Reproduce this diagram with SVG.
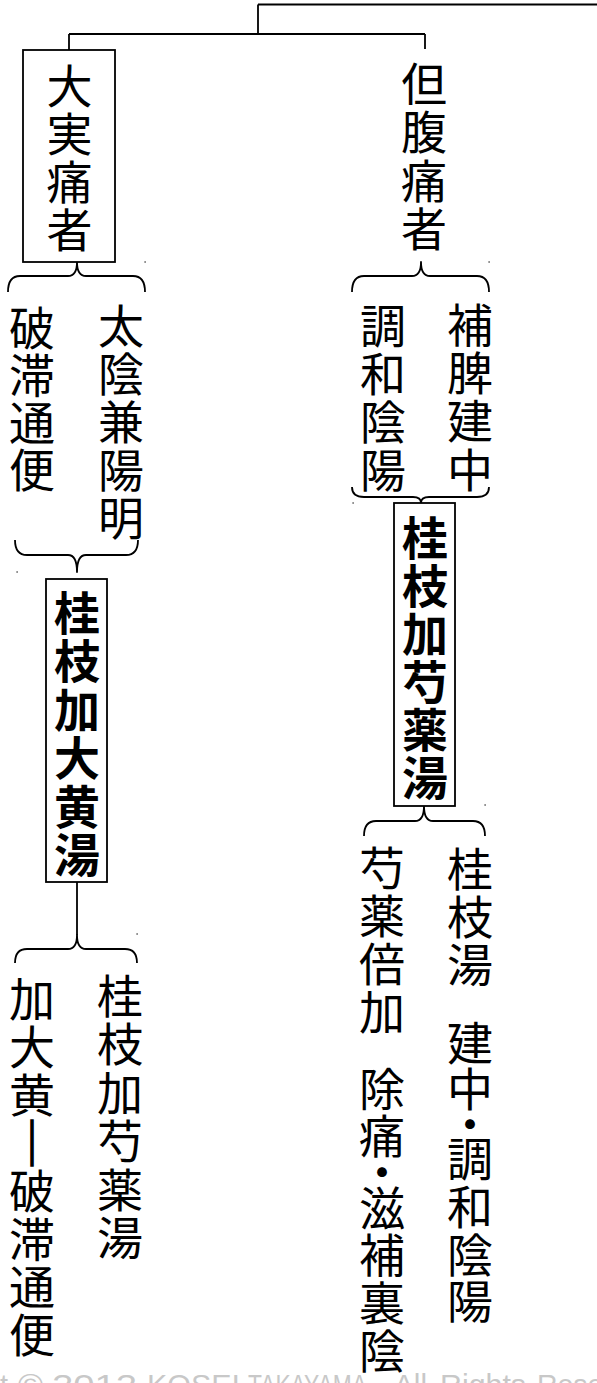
<svg xmlns="http://www.w3.org/2000/svg" width="597" height="1383" viewBox="0 0 597 1383">
<style>
.ln{fill:none;stroke:#000;stroke-width:1.8;stroke-linecap:butt;stroke-linejoin:round}
.box{fill:#fff;stroke:#000;stroke-width:1.8}
.t{font-family:"Noto Sans CJK JP","Noto Sans CJK SC",sans-serif;font-size:46px;fill:#000;text-anchor:middle}
.b{font-weight:700}
.bar{stroke:#000;stroke-width:1.6}
.dot{fill:#666}
.cr{font-family:"Liberation Sans",Arial,sans-serif;font-size:30px;fill:#c8c8c8}
</style>
<g id="connectors">
<path class="ln" d="M258,4.5 H597 M258,4.5 V34 M69,34 H425 M69,34 V50 M425,34 V49"/>
<path class="ln" d="M8,292 Q8,276 20,276 L68,276 Q77,276 77,262 Q77,276 86,276 L133,276 Q145,276 145,292"/>
<path class="ln" d="M15,540 Q15,555 27,555 L68,555 Q77,555 77,572 Q77,555 86,555 L126,555 Q138,555 138,540"/>
<path class="ln" d="M77,882 V935"/>
<path class="ln" d="M15,963 Q15,949 27,949 L68,949 Q77,949 77,935 Q77,949 86,949 L125,949 Q137,949 137,963"/>
<path class="ln" d="M352,292 Q352,276 364,276 L412,276 Q421,276 421,262 Q421,276 430,276 L477,276 Q489,276 489,292"/>
<path class="ln" d="M352,487 Q352,497 364,497 L413,497 Q421,497 421,503 Q421,497 429,497 L477,497 Q489,497 489,487"/>
<path class="ln" d="M364,836 Q364,821 376,821 L415,821 Q424,821 424,806 Q424,821 433,821 L473,821 Q485,821 485,836"/>
<rect class="dot" x="144.5" y="261" width="1.2" height="2"/>
<rect class="dot" x="488.5" y="261" width="1.2" height="2"/>
<rect class="dot" x="16.5" y="571" width="1.2" height="2"/>
<rect class="dot" x="352.5" y="502" width="1.2" height="2"/>
<rect class="dot" x="136.5" y="933" width="1.2" height="2"/>
<rect class="dot" x="484.5" y="804" width="1.2" height="2"/>
</g>
<g id="n-daijitsu">
<rect class="box" x="23" y="50" width="92" height="212"/>
<text class="t"><tspan x="69.5" y="103">大</tspan><tspan x="69.5" y="151">実</tspan><tspan x="69.5" y="199">痛</tspan><tspan x="69.5" y="247">者</tspan></text>
</g>
<g id="n-fukutsu">
<text class="t"><tspan x="424" y="101">但</tspan><tspan x="424" y="149">腹</tspan><tspan x="424" y="198">痛</tspan><tspan x="424" y="246">者</tspan></text>
</g>
<g id="n-hatai">
<text class="t"><tspan x="32" y="345">破</tspan><tspan x="32" y="392">滞</tspan><tspan x="32" y="440">通</tspan><tspan x="32" y="487">便</tspan></text>
</g>
<g id="n-taiin">
<text class="t"><tspan x="121" y="343">太</tspan><tspan x="121" y="391">陰</tspan><tspan x="121" y="439">兼</tspan><tspan x="121" y="487">陽</tspan><tspan x="121" y="535">明</tspan></text>
</g>
<g id="n-chowa">
<text class="t"><tspan x="383" y="343">調</tspan><tspan x="383" y="391">和</tspan><tspan x="383" y="439">陰</tspan><tspan x="383" y="487">陽</tspan></text>
</g>
<g id="n-hohi">
<text class="t"><tspan x="470" y="342">補</tspan><tspan x="470" y="390">脾</tspan><tspan x="470" y="438">建</tspan><tspan x="470" y="487">中</tspan></text>
</g>
<g id="n-keishikadaio">
<rect class="box" x="46" y="579" width="61" height="303"/>
<text class="t b"><tspan x="77" y="630">桂</tspan><tspan x="77" y="678">枝</tspan><tspan x="77" y="727">加</tspan><tspan x="77" y="775">大</tspan><tspan x="77" y="824">黄</tspan><tspan x="77" y="872">湯</tspan></text>
</g>
<g id="n-keishikashakuyaku">
<rect class="box" x="394" y="503" width="61" height="303"/>
<text class="t b"><tspan x="425" y="555">桂</tspan><tspan x="425" y="603">枝</tspan><tspan x="425" y="651">加</tspan><tspan x="425" y="699">芍</tspan><tspan x="425" y="747">薬</tspan><tspan x="425" y="795">湯</tspan></text>
</g>
<g id="n-kadaio">
<text class="t"><tspan x="32" y="1016">加</tspan><tspan x="32" y="1064">大</tspan><tspan x="32" y="1112">黄</tspan><tspan class="bar" x="32" y="1160">｜</tspan><tspan x="32" y="1208">破</tspan><tspan x="32" y="1256">滞</tspan><tspan x="32" y="1304">通</tspan><tspan x="32" y="1352">便</tspan></text>
</g>
<g id="n-keishikashakuyakuto">
<text class="t"><tspan x="120" y="1013">桂</tspan><tspan x="120" y="1061">枝</tspan><tspan x="120" y="1110">加</tspan><tspan x="120" y="1158">芍</tspan><tspan x="120" y="1207">薬</tspan><tspan x="120" y="1255">湯</tspan></text>
</g>
<g id="n-shakuyakubaika">
<text class="t"><tspan x="382" y="885">芍</tspan><tspan x="382" y="933">薬</tspan><tspan x="382" y="981">倍</tspan><tspan x="382" y="1029">加</tspan><tspan x="382" y="1106">除</tspan><tspan x="382" y="1153">痛</tspan><tspan x="382" y="1189">・</tspan><tspan x="382" y="1225">滋</tspan><tspan x="382" y="1272">補</tspan><tspan x="382" y="1320">裏</tspan><tspan x="382" y="1368">陰</tspan></text>
</g>
<g id="n-keishito">
<text class="t"><tspan x="470" y="886">桂</tspan><tspan x="470" y="934">枝</tspan><tspan x="470" y="982">湯</tspan><tspan x="470" y="1060">建</tspan><tspan x="470" y="1106">中</tspan><tspan x="470" y="1141">・</tspan><tspan x="470" y="1176">調</tspan><tspan x="470" y="1224">和</tspan><tspan x="470" y="1272">陰</tspan><tspan x="470" y="1318">陽</tspan></text>
</g>
<g id="copyright">
<text class="cr" x="0" y="1395" textLength="8" lengthAdjust="spacingAndGlyphs">t</text>
<text class="cr" x="18" y="1395" textLength="25" lengthAdjust="spacingAndGlyphs">©</text>
<text class="cr" x="52" y="1395" textLength="85" lengthAdjust="spacingAndGlyphs">2012</text>
<text class="cr" x="147" y="1395" textLength="93" lengthAdjust="spacingAndGlyphs">KOSEI</text>
<text class="cr" x="248" y="1395" textLength="119" lengthAdjust="spacingAndGlyphs">TAKAYAMA</text>
<text class="cr" x="394" y="1395" textLength="33" lengthAdjust="spacingAndGlyphs">All</text>
<text class="cr" x="440" y="1395" textLength="86" lengthAdjust="spacingAndGlyphs">Rights</text>
<text class="cr" x="537" y="1395" textLength="90" lengthAdjust="spacingAndGlyphs">Reserv</text>
</g>
</svg>
